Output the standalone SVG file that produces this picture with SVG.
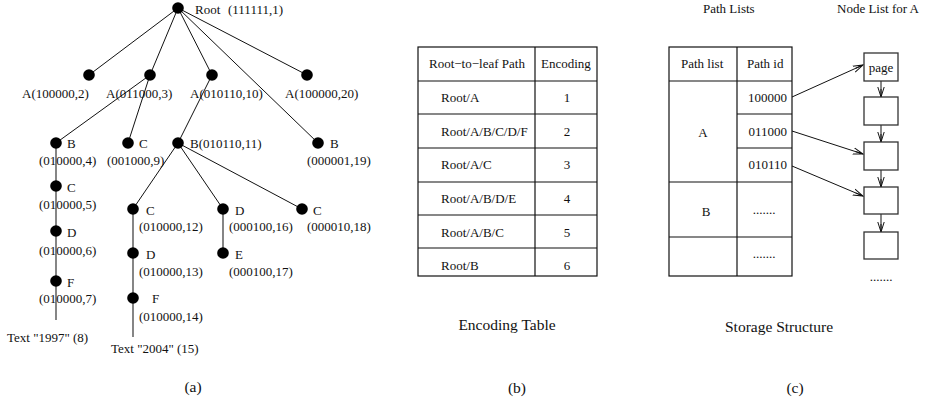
<svg xmlns="http://www.w3.org/2000/svg" width="930" height="402" viewBox="0 0 930 402">
<style>
text{font-family:"Liberation Serif","Times New Roman",serif;font-size:13px;fill:#111}
.cap{font-size:15.5px}
.mid{text-anchor:middle}
.e{stroke:#111;stroke-width:1;fill:none}
.v{stroke:#444;stroke-width:1.3;fill:none}
.dot{fill:#000}
.tb{stroke:#111;stroke-width:1.2;fill:none}
.box{stroke:#333;stroke-width:1.3;fill:#fff}
.ar{stroke:#111;stroke-width:1;fill:none}
</style>
<defs>
<marker id="ah" markerUnits="userSpaceOnUse" markerWidth="12" markerHeight="10" refX="10" refY="4" orient="auto">
<path d="M0,0.8 L10,4 L0,7.2 M2,4 L10,4" stroke="#111" stroke-width="1" fill="none"/>
</marker>
</defs>

<!-- connectors of the tree -->
<g id="connectors">
<line class="e" x1="178" y1="8" x2="89" y2="75"/>
<line class="e" x1="178" y1="8" x2="150" y2="75"/>
<line class="e" x1="178" y1="8" x2="212" y2="75"/>
<line class="e" x1="178" y1="8" x2="307" y2="75"/>
<line class="e" x1="178" y1="8" x2="318" y2="143"/>
<line class="e" x1="150" y1="75" x2="56" y2="143"/>
<line class="e" x1="150" y1="75" x2="128" y2="143"/>
<line class="e" x1="212" y1="75" x2="178" y2="143"/>
<line class="v" x1="56" y1="143" x2="56" y2="320"/>
<line class="e" x1="178" y1="143" x2="133" y2="209"/>
<line class="e" x1="178" y1="143" x2="223" y2="209"/>
<line class="e" x1="178" y1="143" x2="302" y2="209"/>
<line class="v" x1="133" y1="209" x2="133" y2="337"/>
<line class="v" x1="223" y1="209" x2="223" y2="253"/>
<!-- storage arrows -->
<line class="ar" x1="792" y1="97" x2="863" y2="65" marker-end="url(#ah)"/>
<line class="ar" x1="792" y1="131" x2="863" y2="154" marker-end="url(#ah)"/>
<line class="ar" x1="792" y1="166" x2="863" y2="196" marker-end="url(#ah)"/>
<line class="ar" x1="881" y1="81" x2="881" y2="97" marker-end="url(#ah)"/>
<line class="ar" x1="881" y1="125" x2="881" y2="142" marker-end="url(#ah)"/>
<line class="ar" x1="881" y1="170" x2="881" y2="187" marker-end="url(#ah)"/>
<line class="ar" x1="881" y1="214" x2="881" y2="232" marker-end="url(#ah)"/>
</g>

<!-- tree nodes -->
<g id="n-root"><circle class="dot" cx="178" cy="8" r="5.8"/><text x="195" y="14">Root<tspan x="228">(111111,1)</tspan></text></g>
<g id="n-a2"><circle class="dot" cx="89" cy="75" r="5.8"/><text x="22" y="98">A(100000,2)</text></g>
<g id="n-a3"><circle class="dot" cx="150" cy="75" r="5.8"/><text x="106" y="98">A(011000,3)</text></g>
<g id="n-a10"><circle class="dot" cx="212" cy="75" r="5.8"/><text x="190" y="98">A(010110,10)</text></g>
<g id="n-a20"><circle class="dot" cx="307" cy="75" r="5.8"/><text x="285" y="98">A(100000,20)</text></g>
<g id="n-b4"><circle class="dot" cx="56" cy="143" r="5.8"/><text x="67" y="148">B</text><text x="39" y="165">(010000,4)</text></g>
<g id="n-c9"><circle class="dot" cx="128" cy="143" r="5.8"/><text x="139" y="148">C</text><text x="107" y="165">(001000,9)</text></g>
<g id="n-b11"><circle class="dot" cx="178" cy="143" r="5.8"/><text x="190" y="148">B(010110,11)</text></g>
<g id="n-b19"><circle class="dot" cx="318" cy="143" r="5.8"/><text x="330" y="148">B</text><text x="307" y="165">(000001,19)</text></g>
<g id="n-c5"><circle class="dot" cx="56" cy="186" r="5.8"/><text x="67" y="192">C</text><text x="39" y="209">(010000,5)</text></g>
<g id="n-d6"><circle class="dot" cx="56" cy="231" r="5.8"/><text x="67" y="237">D</text><text x="39" y="255">(010000,6)</text></g>
<g id="n-f7"><circle class="dot" cx="56" cy="281" r="5.8"/><text x="67" y="287">F</text><text x="39" y="303">(010000,7)</text></g>
<g id="n-t8"><text x="7" y="342">Text "1997" (8)</text></g>
<g id="n-c12"><circle class="dot" cx="133" cy="209" r="5.8"/><text x="146" y="215">C</text><text x="139" y="231">(010000,12)</text></g>
<g id="n-d13"><circle class="dot" cx="133" cy="253" r="5.8"/><text x="146" y="259">D</text><text x="139" y="276">(010000,13)</text></g>
<g id="n-f14"><circle class="dot" cx="133" cy="298" r="5.8"/><text x="152" y="303">F</text><text x="139" y="321">(010000,14)</text></g>
<g id="n-t15"><text x="111" y="353">Text "2004" (15)</text></g>
<g id="n-d16"><circle class="dot" cx="223" cy="209" r="5.8"/><text x="235" y="215">D</text><text x="229" y="231">(000100,16)</text></g>
<g id="n-e17"><circle class="dot" cx="223" cy="253" r="5.8"/><text x="235" y="259">E</text><text x="229" y="276">(000100,17)</text></g>
<g id="n-c18"><circle class="dot" cx="302" cy="209" r="5.8"/><text x="313" y="215">C</text><text x="307" y="231">(000010,18)</text></g>
<text class="cap mid" x="193" y="392">(a)</text>

<!-- encoding table -->
<g id="encoding-table">
<rect class="tb" x="418" y="47" width="179" height="229"/>
<line class="tb" x1="535" y1="47" x2="535" y2="276"/>
<line class="tb" x1="418" y1="81" x2="597" y2="81"/>
<line class="tb" x1="418" y1="114" x2="597" y2="114"/>
<line class="tb" x1="418" y1="148" x2="597" y2="148"/>
<line class="tb" x1="418" y1="182" x2="597" y2="182"/>
<line class="tb" x1="418" y1="215" x2="597" y2="215"/>
<line class="tb" x1="418" y1="248" x2="597" y2="248"/>
<text x="429" y="68">Root−to−leaf Path</text>
<text x="541" y="68">Encoding</text>
<text x="441" y="102">Root/A</text><text class="mid" x="567" y="102">1</text>
<text x="441" y="136">Root/A/B/C/D/F</text><text class="mid" x="567" y="136">2</text>
<text x="441" y="169">Root/A/C</text><text class="mid" x="567" y="169">3</text>
<text x="441" y="203">Root/A/B/D/E</text><text class="mid" x="567" y="203">4</text>
<text x="441" y="237">Root/A/B/C</text><text class="mid" x="567" y="237">5</text>
<text x="441" y="270">Root/B</text><text class="mid" x="567" y="270">6</text>
</g>
<text class="cap mid" x="507" y="330">Encoding Table</text>
<text class="cap mid" x="517" y="393">(b)</text>

<!-- storage structure -->
<text x="703" y="13">Path Lists</text>
<text x="837" y="13">Node List for A</text>
<g id="path-lists">
<rect class="tb" x="669" y="47" width="123" height="229"/>
<line class="tb" x1="737" y1="47" x2="737" y2="276"/>
<line class="tb" x1="669" y1="81" x2="792" y2="81"/>
<line class="tb" x1="737" y1="114" x2="792" y2="114"/>
<line class="tb" x1="737" y1="148" x2="792" y2="148"/>
<line class="tb" x1="669" y1="182" x2="792" y2="182"/>
<line class="tb" x1="669" y1="237" x2="792" y2="237"/>
<text x="681" y="68">Path list</text>
<text x="747" y="68">Path id</text>
<text x="787" y="102" text-anchor="end">100000</text>
<text x="787" y="136" text-anchor="end">011000</text>
<text x="787" y="169" text-anchor="end">010110</text>
<text class="mid" x="703" y="137">A</text>
<text class="mid" x="706" y="216">B</text>
<text class="mid" x="764" y="214">.......</text>
<text class="mid" x="764" y="258">.......</text>
</g>
<g id="node-list">
<rect class="box" x="864" y="53" width="34" height="28"/>
<text class="mid" x="881" y="72">page</text>
<rect class="box" x="864" y="97" width="34" height="28"/>
<rect class="box" x="864" y="142" width="34" height="28"/>
<rect class="box" x="864" y="187" width="34" height="27"/>
<rect class="box" x="864" y="232" width="34" height="27"/>
<text class="mid" x="881" y="281">.......</text>
</g>
<text class="cap mid" x="779" y="332">Storage Structure</text>
<text class="cap mid" x="795" y="393">(c)</text>
</svg>
